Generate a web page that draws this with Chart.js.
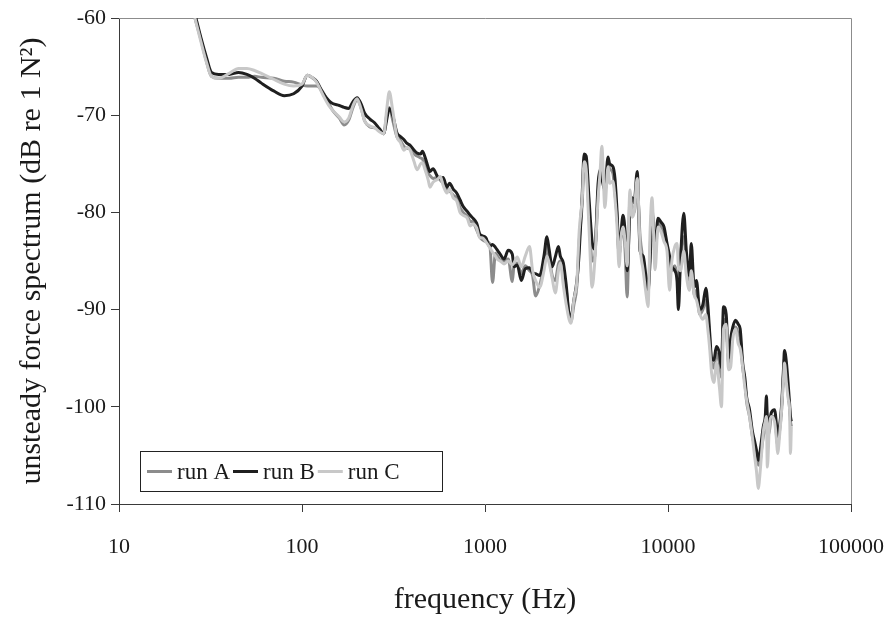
<!DOCTYPE html>
<html>
<head>
<meta charset="utf-8">
<script src="https://cdn.jsdelivr.net/npm/chart.js@4.4.1/dist/chart.umd.min.js"></script>
<style>
  html, body { margin: 0; padding: 0; background: #ffffff; }
  #wrap { width: 884px; height: 618px; }
</style>
</head>
<body>
<div id="wrap"><canvas id="spectrumChart" width="884" height="618"></canvas></div>
<script>
// frequency points (Hz), shared by the three runs
const freqHz = [
    26, 28, 30, 32, 35, 40, 45, 50, 55, 60,
    70, 80, 90, 100, 107, 115, 120, 130, 140, 147,
    160, 170, 180, 190, 200, 210, 220, 235, 250, 265,
    280, 290, 300, 313, 330, 345, 360, 375, 390, 410,
    425, 445, 455, 470, 490, 500, 520, 550, 570, 590,
    620, 640, 670, 700, 730, 760, 800, 830, 860, 900,
    935, 965, 1010, 1060, 1100, 1140, 1180, 1210, 1270, 1340,
    1410, 1440, 1500, 1580, 1660, 1750, 1820, 1890, 1990, 2100,
    2180, 2240, 2330, 2420, 2520, 2580, 2680, 2780, 2880, 2950,
    3060, 3180, 3270, 3400, 3480, 3570, 3700, 3850, 3980, 4150,
    4250, 4350, 4520, 4700, 4800, 5000, 5130, 5270, 5400, 5540,
    5680, 5830, 5980, 6200, 6370, 6530, 6790, 7040, 7320, 7600,
    7780, 7980, 8180, 8500, 8820, 9160, 9510, 9880, 10200, 10500,
    10900, 11200, 11400, 11700, 12200, 12600, 13100, 13400, 13900, 14300,
    14900, 15500, 16100, 16500, 16900, 17300, 17800, 18400, 19100, 19600,
    20100, 20800, 21400, 22000, 22600, 23400, 24200, 24800, 25600, 26300,
    26900, 27900, 28900, 29700, 30400, 31200, 31600, 32400, 33200, 34000,
    34500, 34900, 35800, 36700, 38200, 39200, 39700, 40700, 41700, 42800,
    43300, 44400, 45500, 46100, 46700, 47200
];

// spectrum levels, dB re 1 N^2
const runA = [
    -60.0, -62.2, -64.4, -66.0, -66.2, -66.2, -66.1, -66.1, -66.0, -66.1,
    -66.2, -66.5, -66.6, -66.9, -67.0, -67.0, -67.0, -67.6, -68.8, -69.5,
    -70.3, -71.0, -70.5, -69.2, -68.4, -69.2, -70.6, -71.2, -71.3, -71.6,
    -71.9, -70.0, -69.2, -70.5, -72.2, -72.6, -73.2, -73.4, -73.4, -74.0,
    -74.2, -74.4, -74.5, -75.0, -76.0, -76.2, -76.5, -76.4, -76.7, -77.0,
    -77.6, -77.8, -78.2, -78.6, -79.5, -80.0, -80.4, -80.9, -81.0, -81.8,
    -82.5, -82.8, -83.0, -83.2, -87.2, -84.2, -84.6, -84.9, -85.0, -84.8,
    -87.1, -85.5, -85.2, -86.3, -85.5, -86.0, -86.5, -88.6, -87.5, -85.5,
    -83.5, -84.6, -86.5, -87.0, -85.3, -85.0, -86.5, -88.0, -90.6, -91.2,
    -89.5, -87.5, -83.0, -79.0, -74.5, -75.0, -80.0, -85.0, -84.5, -78.0,
    -76.0, -75.0, -78.0, -75.0, -75.5, -76.0, -78.0, -80.5, -84.0, -82.5,
    -81.5, -84.0, -88.7, -78.5, -79.5, -80.0, -77.5, -82.5, -85.0, -87.5,
    -88.5, -84.0, -79.5, -84.5, -81.0, -81.5, -82.5, -83.5, -85.0, -86.0,
    -85.5, -86.5, -88.0, -84.5, -82.5, -85.5, -87.5, -84.5, -88.5, -88.0,
    -90.5, -90.0, -89.0, -90.5, -93.0, -95.5, -96.0, -94.5, -95.5, -97.0,
    -91.0, -91.5, -95.5, -94.0, -92.5, -91.8, -92.5, -93.0, -96.0, -97.5,
    -99.5, -101.0, -103.0, -104.0, -105.0, -106.0, -106.0, -104.5, -103.0, -102.0,
    -100.0, -103.0, -102.5, -101.0, -101.0, -103.0, -104.0, -102.5, -100.5, -96.5,
    -95.0, -96.5, -99.0, -100.0, -101.5, -102.0
];
const runB = [
    -59.6, -62.0, -64.0, -65.6, -65.8, -65.8, -65.6, -65.8, -66.2, -66.7,
    -67.5, -68.0, -67.8, -67.0, -65.9, -66.2, -66.5, -67.7, -68.5, -68.8,
    -69.0, -69.2, -69.3, -68.6, -68.2, -68.8, -69.8, -70.4, -70.8, -71.4,
    -71.9, -70.5, -69.3, -70.0, -71.8, -72.2, -72.5, -72.9, -73.1, -73.6,
    -73.9, -74.0, -73.7, -74.3, -75.4, -75.8, -75.5, -76.3, -76.5, -76.4,
    -77.4, -77.0, -77.6, -78.0, -78.7, -79.4, -79.9, -80.3, -80.6, -81.1,
    -82.2, -82.4, -82.6, -83.5, -83.3, -83.6, -84.0, -84.3, -84.8, -83.9,
    -84.3, -85.6, -85.4, -87.0, -85.8, -85.7, -86.2, -86.3, -86.5, -84.5,
    -82.5, -83.8, -85.6, -84.6, -83.5, -84.5, -85.2, -87.5, -90.5, -90.8,
    -89.0, -87.0, -84.2, -78.0, -74.0, -74.2, -78.5, -83.0, -83.8, -77.0,
    -75.6, -76.5, -77.7, -74.3, -75.0, -75.3, -76.5, -80.0, -84.5, -82.0,
    -80.3, -82.0, -86.0, -79.5, -78.5, -79.0, -75.8, -84.0, -84.5, -86.8,
    -88.0, -85.0, -80.0, -83.5, -80.6, -81.0, -81.5, -83.2, -84.5, -85.6,
    -86.0, -87.0, -90.0, -85.0, -80.1, -84.0, -86.5, -83.2, -87.7, -87.0,
    -90.0, -89.5, -87.8, -89.5, -92.4, -95.0, -95.2, -93.8, -94.5, -96.0,
    -89.7, -90.5, -95.0, -93.0, -91.8, -91.1, -91.5, -92.0, -95.5, -97.0,
    -99.0, -100.3, -102.5, -103.5, -104.4, -105.5, -105.1, -103.5, -102.0, -101.0,
    -98.9, -101.0, -101.5, -100.6, -100.3, -102.0, -103.5, -102.0, -100.0, -96.0,
    -94.2, -95.5, -98.0, -99.5, -101.0, -101.5
];
const runC = [
    -60.0, -62.4, -64.5, -66.0, -66.2, -65.7, -65.2, -65.2, -65.4, -65.7,
    -66.3, -66.8, -67.0, -66.8, -65.9, -66.2, -66.6, -67.9, -69.0, -69.5,
    -70.2, -70.7, -70.3, -69.0, -68.3, -69.3, -70.6, -71.1, -71.3, -71.7,
    -71.9, -69.5, -67.6, -69.5, -72.2, -72.8, -73.6, -73.3, -73.6, -74.8,
    -75.6, -75.0, -74.9, -75.6, -76.7, -77.4, -76.9, -76.6, -76.3, -77.2,
    -78.0, -77.6, -78.5, -78.8, -80.0, -80.3, -80.6, -81.4, -81.2, -81.6,
    -82.6, -82.6, -83.0, -83.6, -84.1, -84.5, -84.9, -85.0, -85.3, -85.0,
    -85.4, -85.2, -84.6, -85.6, -84.5, -83.5, -86.0, -87.0, -87.7, -86.0,
    -84.5, -85.2, -86.8, -88.3, -86.0, -85.2, -87.5, -89.5, -91.0, -91.4,
    -89.0, -87.0, -82.0, -78.5, -74.8, -75.5, -81.5, -87.7, -85.0, -78.5,
    -76.0, -73.2, -79.5, -75.3, -77.0, -76.8, -78.5, -81.5, -85.6, -82.5,
    -81.5, -83.0, -85.5, -77.7, -80.5, -80.0, -76.5, -83.5, -86.0, -88.5,
    -89.7, -82.0, -78.5, -85.9, -81.5, -82.0, -83.0, -84.0, -88.0, -85.0,
    -83.5, -83.2, -85.5, -86.0, -84.0, -86.5, -88.0, -86.0, -88.5, -89.0,
    -90.4, -91.0, -90.5, -92.0, -94.0, -96.5, -97.5, -95.5, -98.0, -100.0,
    -92.0, -91.5, -96.2, -95.9, -93.0, -92.0, -93.5, -94.0, -95.9, -98.0,
    -99.3, -101.0, -103.1, -105.0, -106.5, -108.4, -107.5, -105.0, -102.5, -101.5,
    -101.0, -106.2, -102.0, -101.0, -101.5, -103.5, -104.8, -103.0, -100.5, -97.0,
    -95.5, -97.6, -99.3, -100.0, -104.8, -102.0
];

const xTicks = [10, 100, 1000, 10000, 100000];
const yTicks = [-110, -100, -90, -80, -70, -60];

const serif = "'Liberation Serif', 'Times New Roman', serif";
const axisColor = '#3a3a3a';
const textColor = '#1a1a1a';

function toPoints(values) {
    return freqHz.map((f, i) => ({ x: f, y: values[i] }));
}

// grey frame on the top and right of the plot area
const plotFrame = {
    id: 'plotFrame',
    beforeDatasetsDraw(chart) {
        const { ctx, chartArea: a } = chart;
        ctx.save();
        ctx.strokeStyle = '#8c8c8c';
        ctx.lineWidth = 1;
        ctx.beginPath();
        ctx.moveTo(a.left, a.top + 0.5);
        ctx.lineTo(a.right + 0.5, a.top + 0.5);
        ctx.lineTo(a.right + 0.5, a.bottom);
        ctx.stroke();
        ctx.restore();
    }
};

// boxed legend in the lower left corner of the plot
const legendBox = {
    id: 'legendBox',
    afterDraw(chart) {
        const { ctx, chartArea: a } = chart;
        const x0 = a.left + 21, y0 = a.bottom - 53, w = 302, h = 40;
        ctx.save();
        ctx.fillStyle = '#ffffff';
        ctx.fillRect(x0, y0, w, h);
        ctx.strokeStyle = '#222222';
        ctx.lineWidth = 1;
        ctx.strokeRect(x0 + 0.5, y0 + 0.5, w, h);
        ctx.font = '23px ' + serif;
        ctx.textBaseline = 'middle';
        const midY = y0 + h / 2 + 0.5;
        let x = x0 + 7;
        chart.data.datasets.forEach(ds => {
            ctx.strokeStyle = ds.borderColor;
            ctx.lineWidth = 3;
            ctx.beginPath();
            ctx.moveTo(x, midY);
            ctx.lineTo(x + 25, midY);
            ctx.stroke();
            ctx.fillStyle = textColor;
            ctx.fillText(ds.label, x + 30, midY + 1);
            x += 30 + ctx.measureText(ds.label).width + 3;
        });
        ctx.restore();
    }
};

const ctx = document.getElementById('spectrumChart').getContext('2d');

new Chart(ctx, {
    type: 'line',
    data: {
        datasets: [
            { label: 'run A', data: toPoints(runA), borderColor: '#8c8c8c', order: 3 },
            { label: 'run B', data: toPoints(runB), borderColor: '#1f1f1f', order: 2 },
            { label: 'run C', data: toPoints(runC), borderColor: '#c8c8c8', order: 1 }
        ]
    },
    options: {
        responsive: false,
        animation: false,
        parsing: false,
        layout: { padding: { left: 0, top: 18, right: 33, bottom: 0 } },
        elements: {
            line: { borderWidth: 3, tension: 0, cubicInterpolationMode: 'monotone', fill: false },
            point: { radius: 0, hoverRadius: 0 }
        },
        plugins: {
            legend: { display: false },
            tooltip: { enabled: false }
        },
        scales: {
            x: {
                type: 'logarithmic',
                min: 10,
                max: 100000,
                afterBuildTicks: (scale) => { scale.ticks = xTicks.map(v => ({ value: v, major: true })); },
                afterFit: (scale) => {
                    scale.height = 114;
                    scale.paddingLeft = 0;
                    scale.paddingRight = 0;
                },
                border: { display: true, color: axisColor, width: 1 },
                grid: { drawOnChartArea: false, drawTicks: true, tickLength: 8, color: axisColor },
                ticks: {
                    color: textColor,
                    padding: 22,
                    maxRotation: 0,
                    autoSkip: false,
                    font: { family: serif, size: 22 },
                    callback: (v) => String(v)
                },
                title: {
                    display: true,
                    text: 'frequency (Hz)',
                    color: textColor,
                    font: { family: serif, size: 30 },
                    padding: { top: 0, bottom: 0 }
                }
            },
            y: {
                type: 'linear',
                min: -110,
                max: -60,
                afterBuildTicks: (scale) => { scale.ticks = yTicks.map(v => ({ value: v })); },
                afterFit: (scale) => {
                    scale.width = 119;
                    scale.paddingTop = 0;
                    scale.paddingBottom = 0;
                },
                border: { display: true, color: axisColor, width: 1 },
                grid: { drawOnChartArea: false, drawTicks: true, tickLength: 8, color: axisColor },
                ticks: {
                    color: textColor,
                    padding: 5,
                    font: { family: serif, size: 22 }
                },
                title: {
                    display: true,
                    text: 'unsteady force spectrum (dB re 1 N\u00B2)',
                    color: textColor,
                    font: { family: serif, size: 30 },
                    padding: { top: 14, bottom: 0 }
                }
            }
        }
    },
    plugins: [plotFrame, legendBox]
});
</script>
</body>
</html>
